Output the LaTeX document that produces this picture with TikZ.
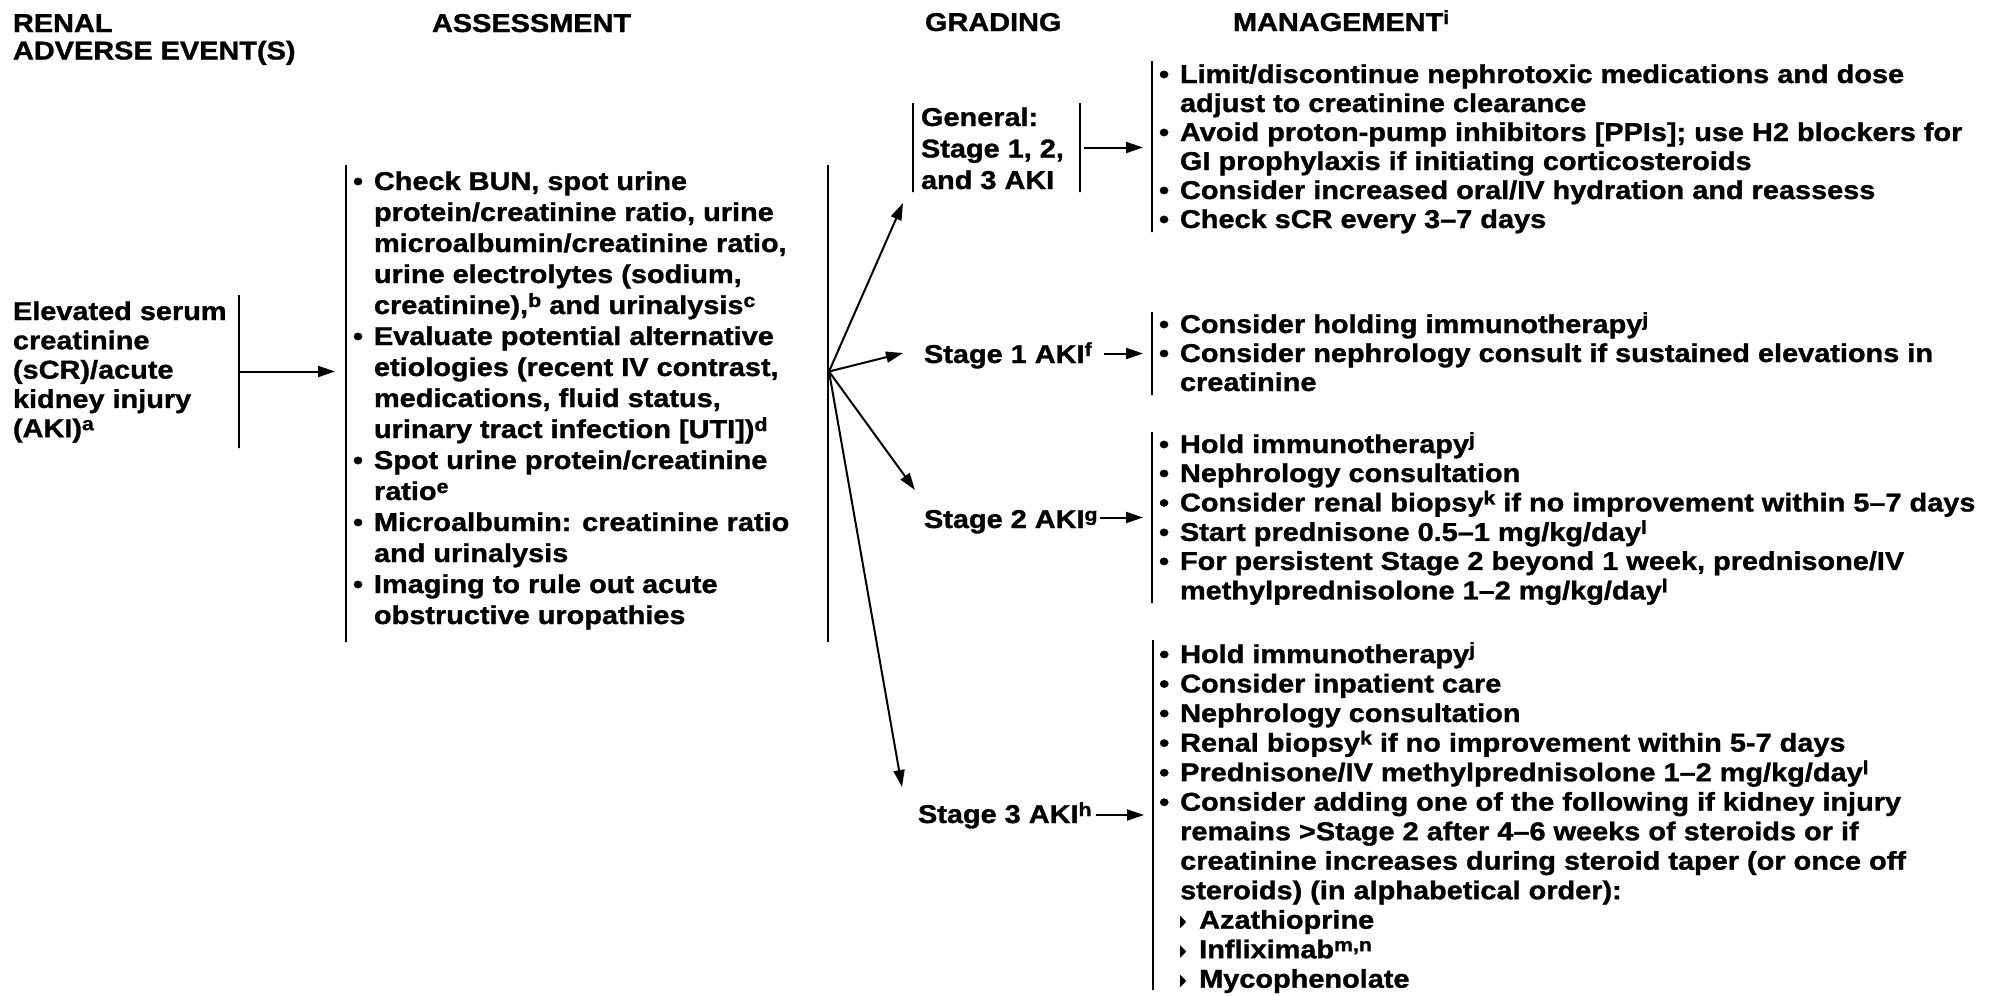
\documentclass[tikz,border=0pt]{standalone}
\usepackage{fontspec}
\setmainfont{Liberation Sans}[FakeStretch=1.12, BoldFeatures={FakeBold=1.2}]
\usetikzlibrary{arrows.meta}

% superscript footnote letters
\newcommand\sups[1]{\raisebox{7pt}{\fontsize{19pt}{19pt}\selectfont #1}}
% bullet, continuation indent and sub-bullet triangle
\newcommand\bul{\makebox[21pt][l]{\textbullet}}
\newcommand\cont{\hspace*{21pt}}
\newcommand\subbul{\makebox[19pt][l]{\tikz[baseline=0pt]\fill (1pt,0.5pt) -- (1pt,13pt) -- (7pt,6.75pt) -- cycle;}}
% block of manually broken lines, baseline at the first line
\newcommand\lines[1]{\begin{tabular}[t]{@{}l@{}}#1\end{tabular}}

\begin{document}
\begin{tikzpicture}[x=1pt, y=-1pt, line width=2pt,
  font=\fontsize{25.8pt}{29.5pt}\selectfont\bfseries,
  txt/.style={anchor=base west, inner sep=0pt},
  vbar/.style={draw, rectangle, inner sep=0pt, minimum width=0pt, minimum height=#1},
  arr/.style={-{Triangle[length=17pt,width=11pt]}}]

\fill[white] (0,0) rectangle (1990,996);
\useasboundingbox (0,0) rectangle (1990,996);

% column headings
\node[txt, font=\fontsize{25.8pt}{27.5pt}\selectfont\bfseries] (hd1) at (12,32) {\lines{RENAL\\ADVERSE EVENT(S)}};
\node[txt] (hd2) at (431,32) {ASSESSMENT};
\node[txt] (hd3) at (924,31) {GRADING};
\node[txt] (hd4) at (1232,31) {MANAGEMENT\sups{i}};

% adverse event
\node[txt, font=\fontsize{25.8pt}{29.3pt}\selectfont\bfseries] (ae) at (12,320)
  {\lines{Elevated serum\\creatinine\\(sCR)/acute\\kidney injury\\(AKI)\sups{a}}};
\node[vbar=153] (barL) at (239,371.5) {};

% assessment
\node[vbar=477] (barA1) at (346,403.5) {};
\node[vbar=477] (barA2) at (828,403.5) {};
\node[txt, font=\fontsize{25.8pt}{31pt}\selectfont\bfseries] (asm) at (352,190) {\lines{%
\bul Check BUN, spot urine\\
\cont protein/creatinine ratio, urine\\
\cont microalbumin/creatinine ratio,\\
\cont urine electrolytes (sodium,\\
\cont creatinine),\sups{b} and urinalysis\sups{c}\\
\bul Evaluate potential alternative\\
\cont etiologies (recent IV contrast,\\
\cont medications, fluid status,\\
\cont urinary tract infection [UTI])\sups{d}\\
\bul Spot urine protein/creatinine\\
\cont ratio\sups{e}\\
\bul Microalbumin: creatinine ratio\\
\cont and urinalysis\\
\bul Imaging to rule out acute\\
\cont obstructive uropathies}};

% grading
\node[vbar=89] (barG1) at (913,147.5) {};
\node[vbar=89] (barG2) at (1080,147.5) {};
\node[txt, font=\fontsize{25.8pt}{31.5pt}\selectfont\bfseries] (gen) at (920,126)
  {\lines{General:\\Stage 1, 2,\\and 3 AKI}};
\node[txt] (s1) at (923,363) {Stage 1 AKI\sups{f}};
\node[txt] (s2) at (923,528) {Stage 2 AKI\sups{g}};
\node[txt] (s3) at (917,823) {Stage 3 AKI\sups{h}};

% management
\node[vbar=171] (barM0) at (1152,146.5) {};
\node[txt, font=\fontsize{25.8pt}{29pt}\selectfont\bfseries] (m0) at (1158,83) {\lines{%
\bul Limit/discontinue nephrotoxic medications and dose\\
\cont adjust to creatinine clearance\\
\bul Avoid proton-pump inhibitors [PPIs]; use H2 blockers for\\
\cont GI prophylaxis if initiating corticosteroids\\
\bul Consider increased oral/IV hydration and reassess\\
\bul Check sCR every 3–7 days}};

\node[vbar=83] (barM1) at (1152,353.5) {};
\node[txt, font=\fontsize{25.8pt}{29pt}\selectfont\bfseries] (m1) at (1158,333) {\lines{%
\bul Consider holding immunotherapy\sups{j}\\
\bul Consider nephrology consult if sustained elevations in\\
\cont creatinine}};

\node[vbar=171] (barM2) at (1152,517.5) {};
\node[txt, font=\fontsize{25.8pt}{29pt}\selectfont\bfseries] (m2) at (1158,453) {\lines{%
\bul Hold immunotherapy\sups{j}\\
\bul Nephrology consultation\\
\bul Consider renal biopsy\sups{k} if no improvement within 5–7 days\\
\bul Start prednisone 0.5–1 mg/kg/day\sups{l}\\
\bul For persistent Stage 2 beyond 1 week, prednisone/IV\\
\cont methylprednisolone 1–2 mg/kg/day\sups{l}}};

\node[vbar=350] (barM3) at (1153,815) {};
\node[txt] (m3) at (1159,663) {\lines{%
\bul Hold immunotherapy\sups{j}\\
\bul Consider inpatient care\\
\bul Nephrology consultation\\
\bul Renal biopsy\sups{k} if no improvement within 5-7 days\\
\bul Prednisone/IV methylprednisolone 1–2 mg/kg/day\sups{l}\\
\bul Consider adding one of the following if kidney injury\\
\cont remains >Stage 2 after 4–6 weeks of steroids or if\\
\cont creatinine increases during steroid taper (or once off\\
\cont steroids) (in alphabetical order):\\
\cont\subbul Azathioprine\\
\cont\subbul Infliximab\sups{m,n}\\
\cont\subbul Mycophenolate}};

% connectors
\draw[arr, shorten >=10pt] (barL.east) -- (barL.east -| barA1.west);
\coordinate (fan) at (barA2.east |- barL.east);
\coordinate (t0) at (903,203);
\coordinate (t1) at (903,353);
\coordinate (t2) at (915,490);
\coordinate (t3) at (902,787);
\draw[arr] (fan) -- (t0);
\draw[arr] (fan) -- (t1);
\draw[arr] (fan) -- (t2);
\draw[arr] (fan) -- (t3);
\draw[arr, shorten >=8pt, shorten <=3pt] (barG2.east) -- (barG2.east -| barM0.west);
\draw[arr, shorten >=8pt, shorten <=11pt] (s1.east |- barM1.west) -- (barM1.west);
\draw[arr, shorten >=8pt, shorten <=1pt] (s2.east |- barM2.west) -- (barM2.west);
\draw[arr, shorten >=8pt, shorten <=3pt] (s3.east |- barM3.west) -- (barM3.west);
\end{tikzpicture}
\end{document}
